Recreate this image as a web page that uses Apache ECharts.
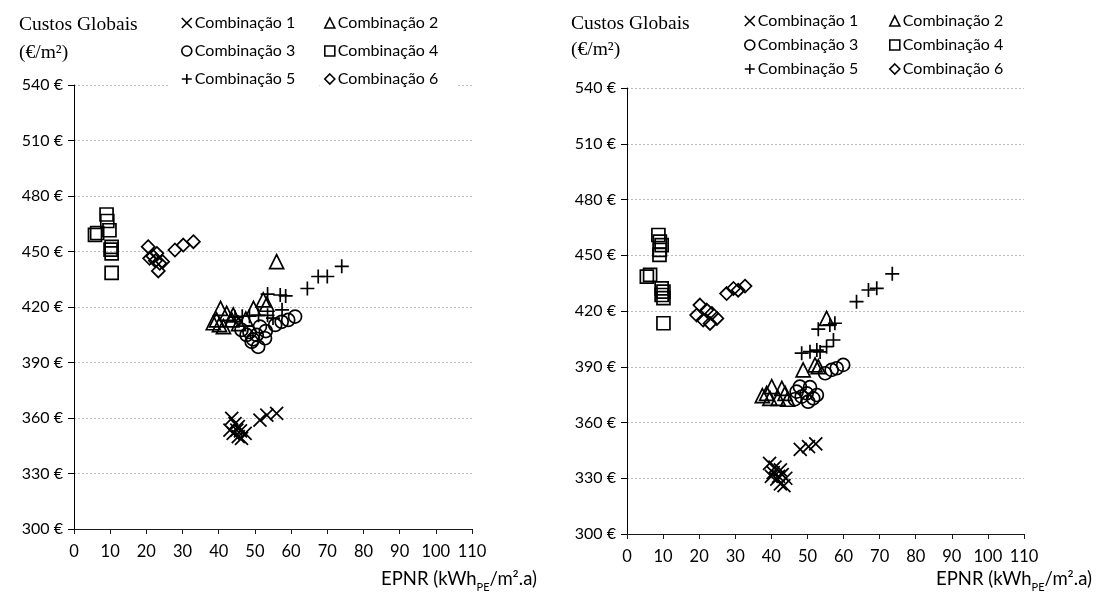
<!DOCTYPE html>
<html>
<head>
<meta charset="utf-8">
<script src="https://cdn.jsdelivr.net/npm/echarts@6/dist/echarts.min.js"></script>
<style>
html,body{margin:0;padding:0;background:#fff;}
#chart{width:1110px;height:597px;}
</style>
</head>
<body>
<div id="chart"></div>
<script>
// Series names (one per combination)
const comboNames = ['Combinação 1','Combinação 2','Combinação 3','Combinação 4','Combinação 5','Combinação 6'];

// Axis ranges / ticks
const xMin = 0, xMax = 110, xStep = 10;
const yMin = 300, yMax = 540, yStep = 30;

// Left panel: [EPNR, global cost]
const leftC1 = [[43.6,359.8],[44.5,357],[45,353.5],[44,351.7],[45.4,349.9],[46.3,349],[47.3,351.7],[45.4,355.3],[43.1,353.5],[46,353],[51.4,358.9],[53.3,361.6],[56,362.5]];
const leftC2 = [[40.5,419.3],[39.4,413],[42.2,416.6],[44,415.7],[43.6,413],[41.3,409.4],[38.5,411.5],[40.2,410.5],[45.5,411],[47.5,413.5],[49.6,419.3],[52.3,423.8],[53.3,421.5],[56,444.5]];
const leftC3 = [[61.1,414.8],[59.2,413],[57.4,412],[55.6,410.3],[52.8,403.1],[50.9,398.5],[49.1,401.2],[50.5,404.9],[47.7,404.9],[46.3,407.6],[51.4,409.4],[48.5,406.5],[53,407],[49.5,402.5]];
const leftC4 = [[9,470],[9.2,466.5],[6.4,460],[5.8,459],[9.8,461.5],[10.4,452.5],[10.4,449],[10.1,451],[10.4,438.5]];
const leftC5 = [[74,442],[70,436.5],[67.5,436.5],[64.5,430],[58.5,426],[57,426.5],[53.5,427],[57.5,418.5],[51,415.5],[53.5,415.5],[48.5,415],[46.5,415],[55,414],[44.5,414.5]];
const leftC6 = [[20.5,452.6],[22.9,449],[20.9,446.3],[23.7,443.6],[23.3,439.5],[21.8,447.5],[22.5,445],[24.5,444.5],[27.9,450.8],[30.2,453.5],[33,455.3]];

// Right panel: [EPNR, global cost]
const rightC1 = [[39.5,338],[41,336],[40.5,333],[42,331],[41.5,329.5],[43,332],[42.5,334.5],[44,330],[40,331],[42.5,327],[43.5,326],[48,345.5],[50.3,347],[52.3,348.5]];
const rightC2 = [[40.1,379.3],[38.7,375.7],[42.9,378.4],[43.8,375.7],[41.9,373],[39.6,373],[37.5,374.5],[44.5,372.5],[48.8,388.3],[52.1,391],[53,390],[55.3,416]];
const rightC3 = [[59.9,391],[58.1,389.2],[56.7,388.3],[54.9,386.5],[47.9,379.3],[50.7,379],[49.8,375.7],[51.6,373],[50.2,371.2],[48.4,373.9],[47,376.6],[52.6,374.8],[46.5,372.5]];
const rightC4 = [[8.7,460.9],[9.1,457.3],[9.6,455.5],[9.1,452.9],[9,450.2],[6.4,439.4],[5.5,438.5],[9.6,432.2],[10.1,430.4],[9.6,428.6],[10.1,426.9],[10.1,413.4]];
const rightC5 = [[73.5,440],[69.2,432.2],[66.9,431.3],[63.6,425],[57.6,413.4],[56.2,412.5],[53,410.2],[57.2,404.4],[55.3,400.8],[52.6,399],[50.7,398.1],[48.4,397.3],[53.5,398]];
const rightC6 = [[20.2,423.2],[22.1,420.5],[19.3,417.8],[21.1,415.1],[23,413.3],[24.9,416],[23.5,418.7],[27.6,429.4],[29.5,432.1],[30.8,431.2],[32.7,433.4]];

const leftSets = [leftC1,leftC2,leftC3,leftC4,leftC5,leftC6];
const rightSets = [rightC1,rightC2,rightC3,rightC4,rightC5,rightC6];

// Marker shapes for the six combinations
const symbols = [
  'path://M0,0L10,10M10,0L0,10',
  'triangle',
  'circle',
  'rect',
  'path://M5,0L5,10M0,5L10,5',
  'diamond'
];
const sizes = [13, 14, 13, 13, 14, 13];

const labelFont = 'Lato, "Open Sans", sans-serif';
const serifFont = '"Liberation Serif", "DejaVu Serif", serif';

function xAxisCfg(gi) {
  return {
    type: 'value', gridIndex: gi, min: xMin, max: xMax, interval: xStep,
    axisLine: { show: true, lineStyle: { color: '#1a1a1a', width: 1 } },
    axisTick: { show: true, length: 5, lineStyle: { color: '#1a1a1a' } },
    axisLabel: { color: '#000', fontFamily: labelFont, fontSize: 16.5, margin: 14 },
    splitLine: { show: false }
  };
}
function yAxisCfg(gi) {
  return {
    type: 'value', gridIndex: gi, min: yMin, max: yMax, interval: yStep,
    axisLine: { show: true, lineStyle: { color: '#000', width: 1 } },
    axisTick: { show: true, length: 6, lineStyle: { color: '#000' } },
    axisLabel: { color: '#000', fontFamily: labelFont, fontSize: 16, margin: 11, formatter: '{value} €' },
    splitLine: { show: true, lineStyle: { color: '#bdbdbd', width: 1, type: [2, 2] } }
  };
}

function makeSeries(sets, gi) {
  return sets.map((d, i) => ({
    name: comboNames[i],
    type: 'scatter',
    xAxisIndex: gi, yAxisIndex: gi,
    data: d,
    symbol: symbols[i],
    symbolSize: sizes[i],
    itemStyle: { color: 'rgba(0,0,0,0)', borderColor: '#000', borderWidth: 1.7, opacity: 1 },
    emphasis: { disabled: true },
    animation: false
  }));
}

function legendCol(names, left, top, gap, pad, bg) {
  return {
    data: names.map(n => ({ name: n, icon: symbols[comboNames.indexOf(n)] })),
    orient: 'vertical', left: left, top: top,
    itemWidth: 10, itemHeight: 10, itemGap: gap,
    padding: pad, backgroundColor: bg,
    selectedMode: false,
    itemStyle: { color: 'rgba(0,0,0,0)', borderColor: '#000', borderWidth: 1.6 },
    textStyle: { fontFamily: labelFont, fontSize: 16, color: '#000', lineHeight: 18, padding: [0, 0, 0, -2] }
  };
}

const axisNameRich = {
  a: { fontFamily: labelFont, fontSize: 18.5, fontWeight: 'normal', color: '#000', lineHeight: 22 },
  s: { fontFamily: labelFont, fontSize: 11, fontWeight: 'normal', color: '#000', lineHeight: 13, verticalAlign: 'bottom', padding: [0, 0, -3, 0] }
};

const option = {
  backgroundColor: '#fff',
  animation: false,
  title: [
    { text: 'Custos Globais\n(€/m²)', left: 14, top: 6,
      textStyle: { fontFamily: serifFont, fontSize: 19.5, fontWeight: 'normal', color: '#000', lineHeight: 28 } },
    { text: 'Custos Globais\n(€/m²)', left: 566, top: 6,
      textStyle: { fontFamily: serifFont, fontSize: 19.5, fontWeight: 'normal', color: '#000', lineHeight: 26 } },
    { text: '{a|EPNR (kWh}{s|PE}{a|/m².a)}', left: 376, top: 563,
      textStyle: { fontWeight: 'normal', rich: axisNameRich } },
    { text: '{a|EPNR (kWh}{s|PE}{a|/m².a)}', left: 931, top: 563,
      textStyle: { fontWeight: 'normal', rich: axisNameRich } }
  ],
  legend: [
    legendCol(['Combinação 1','Combinação 3','Combinação 5'], 168, 12, 10, [2, 24, 4, 13], '#fff'),
    legendCol(['Combinação 2','Combinação 4','Combinação 6'], 322, 12, 10, [2, 18, 4, 2], '#fff'),
    legendCol(['Combinação 1','Combinação 3','Combinação 5'], 742, 10, 6, [2, 4, 2, 2], 'transparent'),
    legendCol(['Combinação 2','Combinação 4','Combinação 6'], 887, 10, 6, [2, 4, 2, 2], 'transparent')
  ],
  grid: [
    { left: 74, top: 85, width: 398, height: 444, containLabel: false },
    { left: 627, top: 88, width: 397, height: 446, containLabel: false }
  ],
  xAxis: [xAxisCfg(0), xAxisCfg(1)],
  yAxis: [yAxisCfg(0), yAxisCfg(1)],
  series: makeSeries(leftSets, 0).concat(makeSeries(rightSets, 1))
};

const chart = echarts.init(document.getElementById('chart'), null, { renderer: 'canvas' });
chart.setOption(option);
</script>
</body>
</html>
